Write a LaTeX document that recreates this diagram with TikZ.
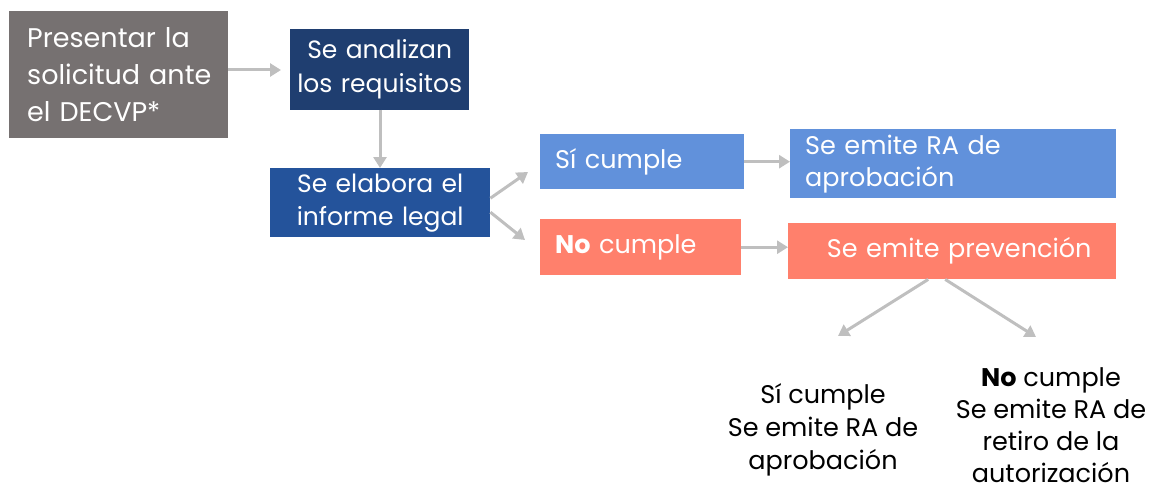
\documentclass[tikz,border=0pt]{standalone}
\usepackage{fontspec}
\setmainfont{Poppins}
\usetikzlibrary{arrows.meta}
\definecolor{cgray}{HTML}{767171}
\definecolor{cnavy}{HTML}{1F3E70}
\definecolor{cblue}{HTML}{24539B}
\definecolor{clight}{HTML}{6191DB}
\definecolor{csalmon}{HTML}{FF806C}
\definecolor{carrow}{HTML}{BFBFBF}
\tikzset{
  box/.style={anchor=north west, inner ysep=0pt, text=white},
  arr/.style={draw=carrow, line width=3pt, -{Triangle[length=11pt,width=13pt]}},
  plain/.style={align=center, text=black, font=\fontsize{25.5}{33}\selectfont}
}
\begin{document}
\begin{tikzpicture}[x=1pt,y=-1pt]
\useasboundingbox (0,0) rectangle (1155,492);
\node[box, fill=cgray, minimum width=219pt, minimum height=127pt, inner xsep=18pt, text width=183pt, align=left,
      font=\fontsize{27}{37}\selectfont] (pres) at (9,11) {\mbox{Presentar la}\\\mbox{solicitud ante}\\\mbox{el DECVP*}};
\node[box, fill=cnavy, minimum width=179pt, minimum height=81pt, inner xsep=0pt, text width=179pt, align=center,
      font=\fontsize{25}{34}\selectfont] (anal) at (290,29) {Se analizan\\los requisitos};
\node[box, fill=cblue, minimum width=220pt, minimum height=69pt, inner xsep=0pt, text width=220pt, align=center,
      font=\fontsize{25}{33}\selectfont] (inf) at (270,168) {Se elabora el\\informe legal};
\node[box, fill=clight, minimum width=204pt, minimum height=55pt, inner xsep=15pt, text width=174pt, align=left,
      font=\fontsize{25.5}{34}\selectfont] (si) at (540,134) {Sí cumple};
\node[box, fill=clight, minimum width=326pt, minimum height=69pt, inner xsep=15pt, text width=296pt, align=left,
      font=\fontsize{25.5}{32}\selectfont] (ra) at (790,129) {Se emite RA de\\aprobación};
\node[box, fill=csalmon, minimum width=201pt, minimum height=56pt, inner xsep=15pt, text width=171pt, align=left,
      font=\fontsize{25.5}{34}\selectfont] (no) at (540,219) {\textbf{No} cumple};
\node[box, fill=csalmon, minimum width=328pt, minimum height=56pt, inner xsep=0pt, text width=328pt, align=center,
      font=\fontsize{25.5}{34}\selectfont] (prev) at (788,223) {\hspace*{14pt}Se emite prevención};
\node[plain] (bl) at (823,430) {Sí cumple\\Se emite RA de\\aprobación};
\node[plain, font=\fontsize{25.5}{32}\selectfont] (br) at (1051,425) {\textbf{No} cumple\\Se emite RA de\\retiro de la\\autorización};
\coordinate (t1) at (528,172);
\coordinate (t2) at (525,240);
\coordinate (t3) at (838,336);
\coordinate (t4) at (1036,337);
\draw[arr] (pres.east |- 0,70) -- (281,70);
\draw[arr] (380,110) -- (inf.north -| 380,0);
\draw[arr] ([yshift=4.5pt]inf.east) -- (t1);
\draw[arr] ([yshift=-9.5pt]inf.east) -- (t2);
\draw[arr] (si.east) -- (ra.west |- si.east);
\draw[arr] (no.east) -- (prev.west |- no.east);
\draw[arr] ([xshift=-24pt]prev.south) -- (t3);
\draw[arr] ([xshift=-7pt]prev.south) -- (t4);
\end{tikzpicture}
\end{document}
